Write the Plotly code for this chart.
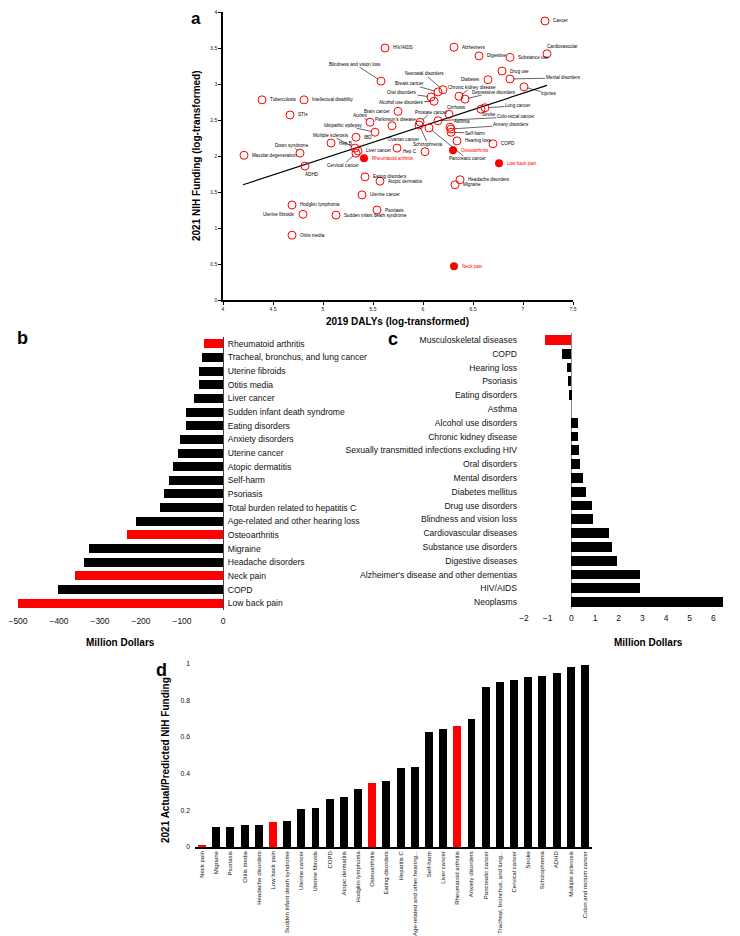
import plotly.graph_objects as go

W, H = 740, 936
FONT = "Liberation Sans, Arial, Helvetica, sans-serif"
RED = "#ff0000"

# ---------------- Panel a data ----------------
a_names = [
    "Cancer", "Cardiovascular", "HIV/AIDS", "Alzheimers", "Digestive", "Substance use",
    "Blindness and vision loss", "Drug use", "Diabetes", "Mental disorders",
    "Neonatal disorders", "Breast cancer", "Oral disorders", "Alcohol use disorders",
    "Chronic kidney disease", "Depressive disorders", "Injuries", "Tuberculosis",
    "Intellectual disability", "Cirrhosis", "Lung cancer", "Stroke", "Brain cancer",
    "Prostate cancer", "Colo-rectal cancer", "STIs", "Autism", "Parkinson's disease",
    "Asthma", "Anxiety disorders", "Self-harm", "Idiopathic epilepsy", "Multiple sclerosis",
    "IBD", "Hep B", "Ovarian cancer", "Schizophrenia", "Pancreatic cancer", "Hearing loss",
    "COPD", "Down syndrome", "Liver cancer", "Hep C", "Osteoarthritis",
    "Macular degeneration", "Cervical cancer", "Rheumatoid arthritis", "Low back pain",
    "ADHD", "Eating disorders", "Atopic dermatitis", "Headache disorders", "Migraine",
    "Uterine cancer", "Hodgkin lymphoma", "Psoriasis", "Uterine fibroids",
    "Sudden infant death syndrome", "Otitis media", "Neck pain",
]
a_dalys = [
    7.22, 7.24, 5.62, 6.31, 6.56, 6.87,
    5.58, 6.79, 6.65, 6.87,
    6.20, 6.15, 6.08, 6.11,
    6.36, 6.42, 7.01, 4.39,
    4.81, 6.26, 6.62, 6.58, 5.75,
    5.97, 6.15, 4.67, 5.47, 5.69,
    6.27, 6.28, 6.28, 5.52, 5.32,
    5.33, 5.08, 5.74, 5.96, 6.06, 6.34,
    6.70, 4.77, 5.35, 6.02, 6.30,
    4.21, 5.33, 5.41, 6.76,
    4.82, 5.42, 5.57, 6.37, 6.32,
    5.39, 4.69, 5.54, 4.80,
    5.13, 4.69, 6.31,
]
a_funding = [
    3.875, 3.42, 3.50, 3.51, 3.39, 3.37,
    3.04, 3.18, 3.06, 3.07,
    2.92, 2.89, 2.82, 2.76,
    2.83, 2.79, 2.96, 2.78,
    2.78, 2.58, 2.67, 2.65, 2.62,
    2.47, 2.49, 2.57, 2.47, 2.42,
    2.40, 2.375, 2.33, 2.33, 2.11,
    2.26, 2.18, 2.11, 2.43, 2.39, 2.21,
    2.17, 2.04, 2.07, 2.06, 2.08,
    2.01, 2.04, 1.97, 1.90,
    1.86, 1.71, 1.65, 1.67, 1.60,
    1.46, 1.32, 1.25, 1.19,
    1.18, 0.90, 0.47,
]
a_msk = ["Rheumatoid arthritis", "Osteoarthritis", "Low back pain", "Neck pain"]
trend_dalys = [4.2, 7.24]
trend_funding = [1.6, 2.98]

# ---------------- Panel b data ----------------
b_labels = [
    "Rheumatoid arthritis", "Tracheal, bronchus, and lung cancer", "Uterine fibroids",
    "Otitis media", "Liver cancer", "Sudden infant death syndrome", "Eating disorders",
    "Anxiety disorders", "Uterine cancer", "Atopic dermatitis", "Self-harm", "Psoriasis",
    "Total burden related to hepatitis C", "Age-related and other hearing loss",
    "Osteoarthritis", "Migraine", "Headache disorders", "Neck pain", "COPD", "Low back pain",
]
b_values = [-46, -51, -59, -59, -71, -90, -91, -104, -110, -122, -131, -145, -153,
            -212, -233, -327, -340, -361, -403, -500]
b_msk = ["Rheumatoid arthritis", "Osteoarthritis", "Neck pain", "Low back pain"]

# ---------------- Panel c data ----------------
c_labels = [
    "Musculoskeletal diseases", "COPD", "Hearing loss", "Psoriasis", "Eating disorders",
    "Asthma", "Alcohol use disorders", "Chronic kidney disease",
    "Sexually transmitted infections excluding HIV", "Oral disorders", "Mental disorders",
    "Diabetes mellitus", "Drug use disorders", "Blindness and vision loss",
    "Cardiovascular diseases", "Substance use disorders", "Digestive diseases",
    "Alzheimer's disease and other dementias", "HIV/AIDS", "Neoplasms",
]
c_values = [-1.13, -0.39, -0.20, -0.12, -0.08, 0.0, 0.29, 0.29, 0.31, 0.37, 0.50,
            0.61, 0.88, 0.91, 1.59, 1.70, 1.94, 2.89, 2.92, 6.42]
c_msk = ["Musculoskeletal diseases"]

# ---------------- Panel d data ----------------
d_labels = [
    "Neck pain", "Migraine", "Psoriasis", "Otitis media", "Headache disorders",
    "Low back pain", "Sudden infant death syndrome", "Uterine cancer", "Uterine fibroids",
    "COPD", "Atopic dermatitis", "Hodgkin lymphoma", "Osteoarthritis", "Eating disorders",
    "Hepatitis C", "Age-related and other hearing...", "Self-harm", "Liver cancer",
    "Rheumatoid arthritis", "Anxiety disorders", "Pancreatic cancer",
    "Tracheal, bronchus, and lung...", "Cervical cancer", "Stroke", "Schizophrenia",
    "ADHD", "Multiple sclerosis", "Colon and rectum cancer",
]
d_values = [0.008, 0.109, 0.109, 0.118, 0.12, 0.138, 0.142, 0.207, 0.213, 0.262,
            0.271, 0.316, 0.347, 0.358, 0.431, 0.435, 0.627, 0.642, 0.66, 0.70,
            0.871, 0.90, 0.909, 0.929, 0.931, 0.951, 0.982, 0.993]
d_msk = ["Neck pain", "Low back pain", "Osteoarthritis", "Rheumatoid arthritis"]

# ---------------- label placement for panel a (pixel offsets) ----------------
# 'r' = right of point, 'l' = left of point, (dx, dy, leader) = label centre offset
label_place = {
    "Blindness and vision loss": (-26, -17, True),
    "Autism": (-10, -7, True),
    "Idiopathic epilepsy": (-32, -7, True),
    "Multiple sclerosis": (-24, -13, True),
    "Down syndrome": (-8, -8, True),
    "Cervical cancer": (-13, 12, True),
    "ADHD": (7, 8, False),
    "Cardiovascular": (15, -7, False),
    "Mental disorders": (53, -1, True),
    "Injuries": (25, 7, True),
    "Neonatal disorders": (-19, -16, True),
    "Breast cancer": (-29, -8, True),
    "Oral disorders": (-29, -4, True),
    "Alcohol use disorders": (-33, 1, True),
    "Chronic kidney disease": (13, -9, True),
    "Depressive disorders": (29, -7, True),
    "Cirrhosis": (7, -7, False),
    "Lung cancer": (33, -2, True),
    "Stroke": (8, 5, False),
    "Colo-rectal cancer": (78, -4, True),
    "Prostate cancer": (11, -10, True),
    "Asthma": (12, -6, False),
    "Anxiety disorders": (60, -4, True),
    "Self-harm": (24, 1, True),
    "Ovarian cancer": (7, -9, False),
    "Schizophrenia": (9, 19, True),
    "Pancreatic cancer": (38, 31, True),
    "Parkinson's disease": (3, -6, False),
    "Diabetes": "l",
    "Hep C": "l",
    "Uterine fibroids": "l",
    "Brain cancer": "l",
}


def px(x):
    return x / W


def py(y):
    return 1 - y / H


fig = go.Figure()

# ---- Panel a traces ----
fig.add_trace(go.Scatter(
    x=trend_dalys, y=trend_funding, mode="lines",
    line=dict(color="black", width=1.2), xaxis="x", yaxis="y", hoverinfo="skip"))

open_x = [x for n, x in zip(a_names, a_dalys) if n not in a_msk]
open_y = [y for n, y in zip(a_names, a_funding) if n not in a_msk]
fill_x = [x for n, x in zip(a_names, a_dalys) if n in a_msk]
fill_y = [y for n, y in zip(a_names, a_funding) if n in a_msk]
fig.add_trace(go.Scatter(
    x=open_x, y=open_y, mode="markers", xaxis="x", yaxis="y",
    marker=dict(symbol="circle-open", color=RED, size=8, line=dict(width=1))))
fig.add_trace(go.Scatter(
    x=fill_x, y=fill_y, mode="markers", xaxis="x", yaxis="y",
    marker=dict(symbol="circle", color=RED, size=8)))

annotations = []
LF = dict(family=FONT, size=4.6, color="black")
for n, x, y in zip(a_names, a_dalys, a_funding):
    col = RED if n in a_msk else "black"
    f = dict(LF, color=col)
    spec = label_place.get(n, "r")
    if spec == "r":
        annotations.append(dict(x=x, y=y, xref="x", yref="y", text=n, showarrow=False,
                                xanchor="left", yanchor="middle", xshift=6, font=f))
    elif spec == "l":
        annotations.append(dict(x=x, y=y, xref="x", yref="y", text=n, showarrow=False,
                                xanchor="right", yanchor="middle", xshift=-6, font=f))
    else:
        dx, dy, leader = spec
        if leader:
            annotations.append(dict(x=x, y=y, xref="x", yref="y", text=n, showarrow=True,
                                    ax=dx, ay=dy, arrowhead=0, arrowwidth=0.6,
                                    arrowcolor="black", standoff=3.5, font=f,
                                    borderpad=0))
        else:
            annotations.append(dict(x=x, y=y, xref="x", yref="y", text=n, showarrow=False,
                                    xshift=dx, yshift=-dy, xanchor="center",
                                    yanchor="middle", font=f))

# ---- Panel b ----
fig.add_trace(go.Bar(
    y=b_labels, x=b_values, orientation="h", xaxis="x2", yaxis="y2", width=0.66,
    marker=dict(color=[RED if l in b_msk else "black" for l in b_labels], line=dict(width=0))))

# ---- Panel c ----
fig.add_trace(go.Bar(
    y=c_labels, x=c_values, orientation="h", xaxis="x3", yaxis="y3", width=0.72,
    marker=dict(color=[RED if l in c_msk else "black" for l in c_labels], line=dict(width=0))))

# ---- Panel d ----
fig.add_trace(go.Bar(
    x=d_labels, y=d_values, xaxis="x4", yaxis="y4", width=0.56,
    marker=dict(color=[RED if l in d_msk else "black" for l in d_labels], line=dict(width=0))))

TF = lambda s: dict(family=FONT, size=s, color="#111")

fig.update_layout(
    width=W, height=H, margin=dict(l=0, r=0, t=0, b=0),
    paper_bgcolor="white", plot_bgcolor="white", showlegend=False,
    font=dict(family=FONT, color="#111"),
    bargap=0,
    xaxis=dict(domain=[px(215), px(565)], range=[4, 7.5], anchor="y", dtick=0.5,
               showline=True, linecolor="black", linewidth=1.6, ticks="outside",
               ticklen=3, tickwidth=1, tickcolor="black", tickfont=TF(5),
               showgrid=False, zeroline=False, automargin=False),
    yaxis=dict(domain=[py(292), py(4)], range=[0, 4], anchor="x", dtick=0.5,
               showline=True, linecolor="black", linewidth=1.6, ticks="outside",
               ticklen=3, tickwidth=1, tickcolor="black", tickfont=TF(5),
               showgrid=False, zeroline=False, automargin=False),
    xaxis2=dict(domain=[px(10), px(215)], range=[-500, 0], anchor="y2",
                tickvals=[-500, -400, -300, -200, -100, 0], showline=False, ticks="",
                tickfont=TF(8.5), showgrid=False, zeroline=False, automargin=False,
                ticklabelstandoff=4, ticklabeloverflow="allow"),
    yaxis2=dict(domain=[py(602), py(329)], anchor="x2", side="right",
                autorange="reversed", showline=True, linecolor="#444", linewidth=1,
                ticks="", tickfont=TF(8.6), showgrid=False, zeroline=False,
                automargin=False, ticklabelstandoff=2),
    xaxis3=dict(domain=[px(516), px(729)], range=[-2, 7], anchor="y3",
                tickvals=[-2, -1, 0, 1, 2, 3, 4, 5, 6, 7],
                showline=False, ticks="", tickfont=TF(8.5), showgrid=False,
                zeroline=True, zerolinecolor="#888", zerolinewidth=1,
                automargin=False, ticklabeloverflow="allow", ticklabelstandoff=2),
    yaxis3=dict(domain=[py(601), py(325)], anchor="x3", autorange="reversed",
                showline=False, ticks="", tickfont=TF(8.6), showgrid=False,
                zeroline=False, automargin=False, ticklabelstandoff=6),
    xaxis4=dict(domain=[px(187), px(584)], range=[-0.5, 27.5], anchor="y4",
                showline=True, linecolor="black", linewidth=1.5, ticks="",
                tickangle=-90, tickfont=TF(6.0), showgrid=False, zeroline=False,
                automargin=False, ticklabelstandoff=0),
    yaxis4=dict(domain=[py(839), py(650)], range=[0, 1.03], anchor="x4",
                tickvals=[0, 0.2, 0.4, 0.6, 0.8, 1], showline=False, ticks="",
                tickfont=TF(6.8), showgrid=False, zeroline=False, automargin=False,
                ticklabelstandoff=4),
)


def paper_text(x, y, text, size, angle=0):
    annotations.append(dict(x=px(x), y=py(y), xref="paper", yref="paper", text=text,
                            showarrow=False, xanchor="center", yanchor="middle",
                            textangle=angle, font=dict(family=FONT, size=size, color="black")))


paper_text(188, 11, "<b>a</b>", 17)
paper_text(188, 148, "<b>2021 NIH Funding (log-transformed)</b>", 10, -90)
paper_text(390, 314, "<b>2019 DALYs (log-transformed)</b>", 10)
paper_text(14, 330, "<b>b</b>", 18)
paper_text(385, 331, "<b>c</b>", 18)
paper_text(112, 634, "<b>Million Dollars</b>", 10)
paper_text(640, 634, "<b>Million Dollars</b>", 10)
paper_text(153, 662, "<b>d</b>", 18)
paper_text(157, 752, "<b>2021 Actual/Predicted NIH Funding</b>", 10, -90)

fig.update_layout(annotations=annotations)
fig.write_html("out.html")
